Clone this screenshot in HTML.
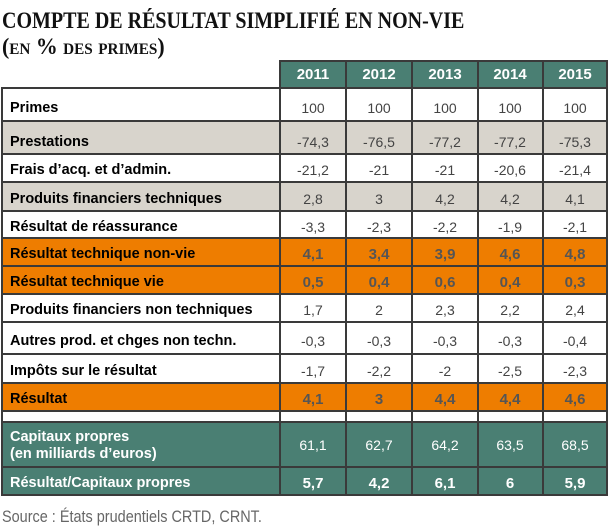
<!DOCTYPE html>
<html><head><meta charset="utf-8"><style>
body{margin:0;width:610px;height:532px;background:#fff;position:relative;overflow:hidden;font-family:"Liberation Sans",sans-serif}
.a{position:absolute}
.t{font-family:"Liberation Serif",serif;font-weight:bold;color:#111;transform-origin:0 0;white-space:nowrap}
.bg{position:absolute;left:1px;width:606px}
.h{position:absolute;left:1px;width:607px;height:2px;background:#3a3a3a}
.v{position:absolute;top:88px;height:408px;width:2px;background:#3a3a3a}
.l{position:absolute;left:10px;font-weight:bold;font-size:14.5px;color:#000;white-space:nowrap;margin-top:3px}
.n{position:absolute;width:66px;text-align:center;font-size:14px;color:#444;margin-top:3px}
.b{font-weight:bold;color:#555;font-size:15px}
.w{color:#fff}
.hd{position:absolute;top:60px;height:28px;width:66px;text-align:center;line-height:29px;color:#fff;font-weight:bold;font-size:15px}
</style></head><body>
<div class="a t" style="left:2px;top:8px;font-size:23px;transform:scaleX(0.87)">COMPTE DE RÉSULTAT SIMPLIFIÉ EN NON-VIE</div>
<div class="a t" style="left:2px;top:34px;font-size:23px;font-variant:small-caps;transform:scaleX(0.95)">(en % des primes)</div>

<div class="a" style="left:279px;top:60px;width:329px;height:28px;background:#4a7f73"></div>
<div class="a" style="left:279px;top:60px;width:329px;height:2px;background:#3a3a3a"></div>
<div class="a" style="left:279px;top:60px;width:2px;height:28px;background:#3a3a3a"></div>
<div class="a" style="left:345px;top:60px;width:2px;height:28px;background:#3a3a3a"></div>
<div class="a" style="left:411px;top:60px;width:2px;height:28px;background:#3a3a3a"></div>
<div class="a" style="left:477px;top:60px;width:2px;height:28px;background:#3a3a3a"></div>
<div class="a" style="left:542px;top:60px;width:2px;height:28px;background:#3a3a3a"></div>
<div class="a" style="left:606px;top:60px;width:2px;height:28px;background:#3a3a3a"></div>
<div class="hd" style="left:280px">2011</div><div class="hd" style="left:346px">2012</div><div class="hd" style="left:412px">2013</div><div class="hd" style="left:477px">2014</div><div class="hd" style="left:542px">2015</div>

<div class="bg" style="top:121px;height:33px;background:#d8d4cc"></div>
<div class="bg" style="top:182px;height:29px;background:#d8d4cc"></div>
<div class="bg" style="top:238px;height:56px;background:#ee7d00"></div>
<div class="bg" style="top:383px;height:28px;background:#ee7d00"></div>
<div class="bg" style="top:422px;height:73px;background:#4a7f73"></div>

<div class="h" style="top:87px"></div><div class="h" style="top:120px"></div><div class="h" style="top:153px"></div><div class="h" style="top:181px"></div><div class="h" style="top:210px"></div><div class="h" style="top:237px"></div><div class="h" style="top:265px"></div><div class="h" style="top:293px"></div><div class="h" style="top:321px"></div><div class="h" style="top:353px"></div><div class="h" style="top:382px"></div><div class="h" style="top:410px"></div><div class="h" style="top:421px"></div><div class="h" style="top:466px"></div><div class="h" style="top:494px"></div>
<div class="v" style="left:1px"></div><div class="v" style="left:279px"></div><div class="v" style="left:345px"></div><div class="v" style="left:411px"></div><div class="v" style="left:477px"></div><div class="v" style="left:542px"></div><div class="v" style="left:606px"></div>

<div class="l" style="top:97px">Primes</div>
<div class="l" style="top:131px">Prestations</div>
<div class="l" style="top:159px">Frais d’acq. et d’admin.</div>
<div class="l" style="top:188px">Produits financiers techniques</div>
<div class="l" style="top:216px">Résultat de réassurance</div>
<div class="l" style="top:243px">Résultat technique non-vie</div>
<div class="l" style="top:271px">Résultat technique vie</div>
<div class="l" style="top:299px">Produits financiers non techniques</div>
<div class="l" style="top:330px">Autres prod. et chges non techn.</div>
<div class="l" style="top:360px">Impôts sur le résultat</div>
<div class="l" style="top:388px">Résultat</div>
<div class="l" style="top:426px;color:#fff;line-height:17px">Capitaux propres<br>(en milliards d’euros)</div>
<div class="l" style="top:472px;color:#fff">Résultat/Capitaux propres</div>

<div class="n" style="left:280px;top:97px">100</div><div class="n" style="left:346px;top:97px">100</div><div class="n" style="left:412px;top:97px">100</div><div class="n" style="left:477px;top:97px">100</div><div class="n" style="left:542px;top:97px">100</div>
<div class="n" style="left:280px;top:131px">-74,3</div><div class="n" style="left:346px;top:131px">-76,5</div><div class="n" style="left:412px;top:131px">-77,2</div><div class="n" style="left:477px;top:131px">-77,2</div><div class="n" style="left:542px;top:131px">-75,3</div>
<div class="n" style="left:280px;top:159px">-21,2</div><div class="n" style="left:346px;top:159px">-21</div><div class="n" style="left:412px;top:159px">-21</div><div class="n" style="left:477px;top:159px">-20,6</div><div class="n" style="left:542px;top:159px">-21,4</div>
<div class="n" style="left:280px;top:188px">2,8</div><div class="n" style="left:346px;top:188px">3</div><div class="n" style="left:412px;top:188px">4,2</div><div class="n" style="left:477px;top:188px">4,2</div><div class="n" style="left:542px;top:188px">4,1</div>
<div class="n" style="left:280px;top:216px">-3,3</div><div class="n" style="left:346px;top:216px">-2,3</div><div class="n" style="left:412px;top:216px">-2,2</div><div class="n" style="left:477px;top:216px">-1,9</div><div class="n" style="left:542px;top:216px">-2,1</div>
<div class="n b" style="left:280px;top:243px">4,1</div><div class="n b" style="left:346px;top:243px">3,4</div><div class="n b" style="left:412px;top:243px">3,9</div><div class="n b" style="left:477px;top:243px">4,6</div><div class="n b" style="left:542px;top:243px">4,8</div>
<div class="n b" style="left:280px;top:271px">0,5</div><div class="n b" style="left:346px;top:271px">0,4</div><div class="n b" style="left:412px;top:271px">0,6</div><div class="n b" style="left:477px;top:271px">0,4</div><div class="n b" style="left:542px;top:271px">0,3</div>
<div class="n" style="left:280px;top:299px">1,7</div><div class="n" style="left:346px;top:299px">2</div><div class="n" style="left:412px;top:299px">2,3</div><div class="n" style="left:477px;top:299px">2,2</div><div class="n" style="left:542px;top:299px">2,4</div>
<div class="n" style="left:280px;top:330px">-0,3</div><div class="n" style="left:346px;top:330px">-0,3</div><div class="n" style="left:412px;top:330px">-0,3</div><div class="n" style="left:477px;top:330px">-0,3</div><div class="n" style="left:542px;top:330px">-0,4</div>
<div class="n" style="left:280px;top:360px">-1,7</div><div class="n" style="left:346px;top:360px">-2,2</div><div class="n" style="left:412px;top:360px">-2</div><div class="n" style="left:477px;top:360px">-2,5</div><div class="n" style="left:542px;top:360px">-2,3</div>
<div class="n b" style="left:280px;top:388px">4,1</div><div class="n b" style="left:346px;top:388px">3</div><div class="n b" style="left:412px;top:388px">4,4</div><div class="n b" style="left:477px;top:388px">4,4</div><div class="n b" style="left:542px;top:388px">4,6</div>
<div class="n w" style="left:280px;top:434px">61,1</div><div class="n w" style="left:346px;top:434px">62,7</div><div class="n w" style="left:412px;top:434px">64,2</div><div class="n w" style="left:477px;top:434px">63,5</div><div class="n w" style="left:542px;top:434px">68,5</div>
<div class="n w b" style="left:280px;top:472px;color:#fff">5,7</div><div class="n w b" style="left:346px;top:472px;color:#fff">4,2</div><div class="n w b" style="left:412px;top:472px;color:#fff">6,1</div><div class="n w b" style="left:477px;top:472px;color:#fff">6</div><div class="n w b" style="left:542px;top:472px;color:#fff">5,9</div>

<div class="a" style="left:2px;top:507px;font-size:17px;color:#666;transform:scaleX(0.85);transform-origin:0 0;white-space:nowrap">Source : États prudentiels CRTD, CRNT.</div>
</body></html>
